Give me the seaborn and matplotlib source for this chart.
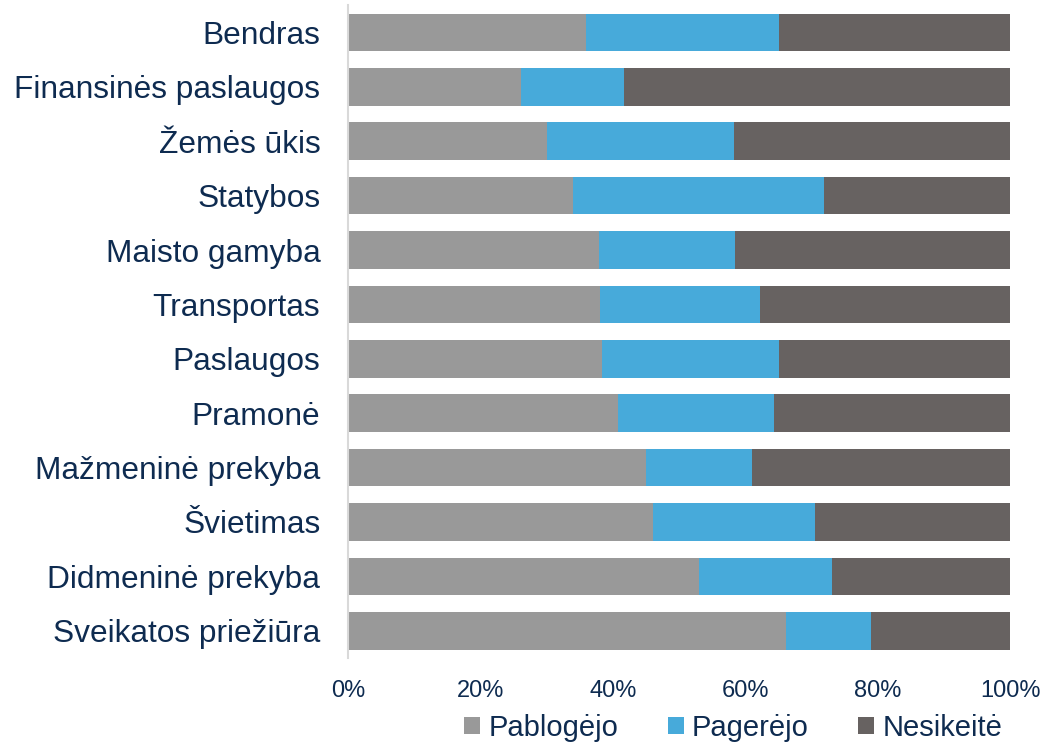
import numpy as np
import pandas as pd
import matplotlib.pyplot as plt
import seaborn as sns
from matplotlib.patches import Patch

categories = ['Bendras', 'Finansinės paslaugos', 'Žemės ūkis', 'Statybos',
              'Maisto gamyba', 'Transportas', 'Paslaugos', 'Pramonė',
              'Mažmeninė prekyba', 'Švietimas', 'Didmeninė prekyba',
              'Sveikatos priežiūra']
pablogejo = [35.9, 26.1, 30.1, 34.0, 37.9, 38.0, 38.3, 40.8, 45.0, 46.0, 53.0, 66.1]
pagerejo = [29.2, 15.6, 28.2, 37.9, 20.6, 24.2, 26.8, 23.6, 16.0, 24.5, 20.1, 12.9]
nesikeite = [100 - a - b for a, b in zip(pablogejo, pagerejo)]
series_names = ['Pablogėjo', 'Pagerėjo', 'Nesikeitė']
colors = ['#999999', '#47AADA', '#676261']
text_color = '#0E2B50'

df = pd.DataFrame({'cat': categories, 'Pablogėjo': pablogejo,
                   'Pagerėjo': pagerejo, 'Nesikeitė': nesikeite})
df['c1'] = df['Pablogėjo']
df['c2'] = df['c1'] + df['Pagerėjo']
df['c3'] = df['c2'] + df['Nesikeitė']

sns.set_style('white')
plt.rcParams['font.family'] = ['Liberation Sans', 'DejaVu Sans']

fig = plt.figure(figsize=(10.43, 7.44), dpi=100)
ax = fig.add_axes([0.3337, 0.1156, 0.6347, 0.8774])

for col, c in zip(['c3', 'c2', 'c1'], colors[::-1]):
    sns.barplot(data=df, y='cat', x=col, orient='h', color=c, width=0.69,
                saturation=1, edgecolor='none', ax=ax)

ax.set_xlim(0, 100)
ax.set_ylim(11.5, -0.5)
ax.set_xticks(np.arange(0, 101, 20))
ax.set_xticklabels([f'{t}%' for t in range(0, 101, 20)])
ax.set_xlabel('')
ax.set_ylabel('')
ax.tick_params(axis='y', labelsize=22.8, labelcolor=text_color, length=0, pad=20)
ax.tick_params(axis='x', labelsize=17, labelcolor=text_color, length=0, pad=16)
for s in ['top', 'right', 'bottom']:
    ax.spines[s].set_visible(False)
ax.spines['left'].set_color('#D9D9D9')
ax.spines['left'].set_linewidth(1.5)

handles = [Patch(facecolor=c, edgecolor='none') for c in colors]
leg = fig.legend(handles, series_names, loc='center', bbox_to_anchor=(0.703, 0.022),
                 ncol=3, frameon=False, fontsize=21, handlelength=0.55, handleheight=0.55,
                 handletextpad=0.28, columnspacing=1.7, borderpad=0)
for t in leg.get_texts():
    t.set_color(text_color)

fig.savefig('out.png', dpi=100)
